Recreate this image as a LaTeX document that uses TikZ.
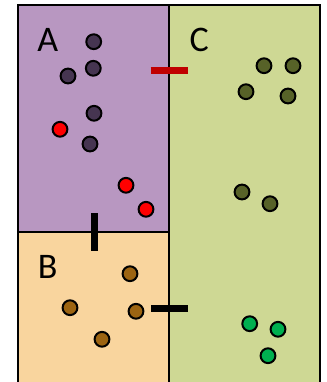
\documentclass[tikz,border=0pt]{standalone}
\usepackage{fontspec}
\setmainfont{Carlito}
\usepackage{xcolor}
\usepackage{tikz}
\definecolor{zonea}{HTML}{B897C1}
\definecolor{zoneb}{HTML}{F9D59E}
\definecolor{zonec}{HTML}{CED894}
\definecolor{dotdark}{HTML}{463551}
\definecolor{dotolive}{HTML}{576228}
\definecolor{dotbrown}{HTML}{9C6412}
\definecolor{dotgreen}{HTML}{00B050}
\definecolor{dotred}{HTML}{FF0000}
\definecolor{barred}{HTML}{C00000}

\begin{document}
\begin{tikzpicture}[
  x=1pt, y=-1pt,
  wall/.style={draw=black, line width=2.5pt},
  dot/.style={circle, draw=black, line width=2pt, minimum size=14.8pt, inner sep=0pt},
  zlabel/.style={inner sep=0pt, font=\fontsize{36}{40}\selectfont},
  gate/.style={line width=7pt}
]
  \useasboundingbox (0,0) rectangle (326,382);
  \clip (0,0) rectangle (326,382);

  % zones
  \fill[zonea] (18,5) rectangle (169,232);
  \fill[zoneb] (18,232) rectangle (169,395);
  \fill[zonec] (169,5) rectangle (320,395);
  \draw[wall] (18,395) -- (18,5) -- (320,5) -- (320,395);
  \draw[wall] (169,5) -- (169,395);
  \draw[wall] (18,232) -- (169,232);

  \node[zlabel] (la) at (47.7,39.5) {A};
  \node[zlabel] (lb) at (47.7,267) {B};
  \node[zlabel] (lc) at (199.3,39.5) {C};

  % zone A
  \node[dot, fill=dotdark] (a1) at (93.7,41.7) {};
  \node[dot, fill=dotdark] (a2) at (93.3,68.3) {};
  \node[dot, fill=dotdark] (a3) at (68,76) {};
  \node[dot, fill=dotdark] (a4) at (94,113.3) {};
  \node[dot, fill=dotdark] (a5) at (90,144) {};
  \node[dot, fill=dotred] (r1) at (60,129.3) {};
  \node[dot, fill=dotred] (r2) at (126,185.3) {};
  \node[dot, fill=dotred] (r3) at (146,209.3) {};

  % zone B
  \node[dot, fill=dotbrown] (b1) at (130,273.7) {};
  \node[dot, fill=dotbrown] (b2) at (70,307.7) {};
  \node[dot, fill=dotbrown] (b3) at (136,311.3) {};
  \node[dot, fill=dotbrown] (b4) at (102,339.3) {};

  % zone C
  \node[dot, fill=dotolive] (c1) at (264,65.7) {};
  \node[dot, fill=dotolive] (c2) at (293,65.7) {};
  \node[dot, fill=dotolive] (c3) at (246,91.7) {};
  \node[dot, fill=dotolive] (c4) at (288,96) {};
  \node[dot, fill=dotolive] (c5) at (242,192) {};
  \node[dot, fill=dotolive] (c6) at (270,203.7) {};
  \node[dot, fill=dotgreen] (g1) at (249.7,323.7) {};
  \node[dot, fill=dotgreen] (g2) at (278,329.3) {};
  \node[dot, fill=dotgreen] (g3) at (268,355.7) {};

  % gates
  \draw[gate, barred] (150.5,70.3) -- (187.7,70.3);
  \draw[gate, black] (94,213) -- (94,251);
  \draw[gate, black] (151,308.3) -- (188,308.3);
\end{tikzpicture}
\end{document}
